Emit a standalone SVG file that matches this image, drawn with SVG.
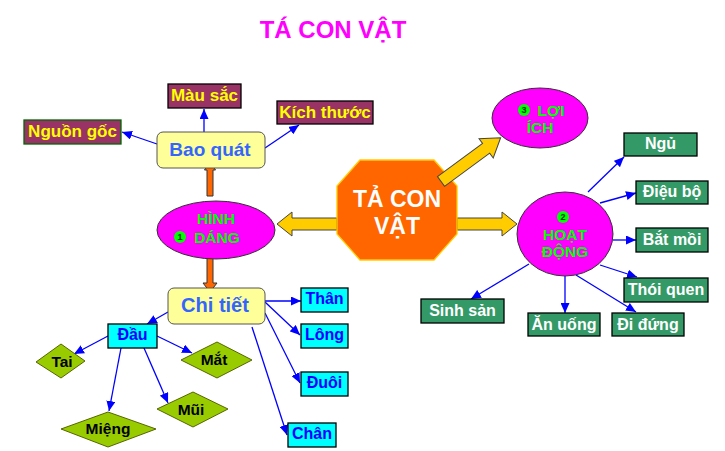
<svg xmlns="http://www.w3.org/2000/svg" width="725" height="451" viewBox="0 0 725 451">
<defs>
<marker id="ah" markerUnits="userSpaceOnUse" markerWidth="11" markerHeight="9" refX="10" refY="4.5" orient="auto">
<path d="M0,0 L10,4.5 L0,9 Z" fill="#0000FF"/>
</marker>
<style>
text{font-family:"Liberation Sans",Arial,sans-serif;text-anchor:middle}
.conn line{stroke:#0000FF;stroke-width:1.3;marker-end:url(#ah)}
.brown rect{fill:#993366;stroke:#000;stroke-width:1.3}
.brown text{fill:#FFFF00;font-weight:bold;font-size:17px}
.yel rect{fill:#FFFF99;stroke:#555;stroke-width:1}
.yel text{fill:#3366FF;font-weight:bold}
.cyan rect{fill:#00FFFF;stroke:#000;stroke-width:1.3}
.cyan text{fill:#0000FF;font-weight:bold;font-size:16px}
.dia polygon{fill:#99CC00;stroke:#556600;stroke-width:1}
.dia text{fill:#000;font-weight:bold;font-size:15.5px}
.grn rect{fill:#339966;stroke:#000;stroke-width:1.3}
.grn text{fill:#FFF;font-weight:bold;font-size:16px}
.ell ellipse{fill:#FF00FF;stroke:#333;stroke-width:1}
.ell text{fill:#00FF00;font-size:15.5px;font-weight:bold}
.bul circle{fill:#00FF00}
.bul text{fill:#003300;font-size:9px;font-weight:bold}
.yarrow{fill:#FFCC00;stroke:#444;stroke-width:1}
.oarrow{fill:#FF6600;stroke:#333;stroke-width:1}
</style>
</defs>
<rect width="725" height="451" fill="#FFFFFF"/>
<text id="title" x="333" y="38" font-size="24" font-weight="bold" fill="#FF00FF">TÁ CON VẬT</text>

<g id="connectors" class="conn">
<line x1="204" y1="132" x2="204" y2="109"/>
<line x1="157" y1="144" x2="122" y2="132"/>
<line x1="265" y1="148" x2="299" y2="125"/>
<line x1="265" y1="301" x2="301" y2="301"/>
<line x1="265" y1="302" x2="300" y2="335"/>
<line x1="265" y1="313" x2="300" y2="383"/>
<line x1="252" y1="327" x2="287" y2="435"/>
<line x1="168" y1="312" x2="147" y2="324"/>
<line x1="108" y1="336" x2="74" y2="354"/>
<line x1="157" y1="336" x2="192" y2="353"/>
<line x1="121" y1="348" x2="109" y2="411"/>
<line x1="144" y1="348" x2="168" y2="403"/>
<line x1="588" y1="192" x2="624" y2="157"/>
<line x1="600" y1="203" x2="636" y2="193"/>
<line x1="613" y1="240" x2="636" y2="240"/>
<line x1="600" y1="265" x2="637" y2="277"/>
<line x1="576" y1="275" x2="636" y2="312"/>
<line x1="565" y1="276" x2="565" y2="313"/>
<line x1="529" y1="264" x2="471" y2="299"/>
<polygon class="yarrow" points="277,224 292,212 292,218 337,218 337,230 292,230 292,236"/>
<polygon class="yarrow" points="457,218 502,218 502,212 517,224 502,236 502,230 457,230"/>
<polygon class="oarrow" points="207,196 207,170 204.5,170 210,161 215.5,170 213,170 213,196"/>
<polygon class="oarrow" points="207,257 213,257 213,283 217,283 210,292 203,283 207,283"/>
</g>

<g id="center">
<polygon points="360,160 434,160 457,186 457,234 434,260 360,260 337,234 337,186" fill="#FF6600" stroke="#FFCC00" stroke-width="1.3"/>
<text x="397" y="207" font-size="23" font-weight="bold" fill="#FFFFFF">TẢ CON</text>
<text x="397" y="234" font-size="23" font-weight="bold" fill="#FFFFFF">VẬT</text>
</g>
<g id="arrow-loiich">
<polygon class="yarrow" transform="translate(441,181.5) rotate(-36.3)" points="0,-6 56,-6 56,-12 74,0 56,12 56,6 0,6"/>
</g>

<g id="hinhdang" class="ell">
<ellipse cx="216" cy="230" rx="59" ry="29"/>
<text x="216" y="224">HÌNH</text>
<text x="217" y="243">DÁNG</text>
<g class="bul"><circle cx="180" cy="237" r="6"/><text x="180" y="240.2">1</text></g>
</g>
<g id="loiich" class="ell">
<ellipse cx="540" cy="118" rx="48" ry="30"/>
<text x="551" y="116">LỢI</text>
<text x="540" y="133">ÍCH</text>
<g class="bul"><circle cx="524" cy="110" r="6"/><text x="524" y="113.2">3</text></g>
</g>
<g id="hoatdong" class="ell">
<ellipse cx="565" cy="234" rx="48" ry="42"/>
<g class="bul"><circle cx="563" cy="217" r="6"/><text x="563" y="220.2">2</text></g>
<text x="565" y="240">HOẠT</text>
<text x="565" y="257">ĐỘNG</text>
</g>

<g id="baoquat" class="yel"><rect x="157" y="132" width="108" height="36" rx="6"/><text x="210" y="156" font-size="19">Bao quát</text></g>
<g id="chitiet" class="yel"><rect x="168" y="288" width="97" height="36" rx="6"/><text x="215" y="312" font-size="20">Chi tiết</text></g>

<g id="mausac" class="brown"><rect x="168" y="84" width="73" height="24"/><text x="204.5" y="101">Màu sắc</text></g>
<g id="kichthuoc" class="brown"><rect x="277" y="101" width="96" height="23"/><text x="325" y="118">Kích thước</text></g>
<g id="nguongoc" class="brown"><rect x="24" y="120" width="97" height="24" style="stroke:#006600"/><text x="72.5" y="137">Nguồn gốc</text></g>

<g id="than" class="cyan"><rect x="301" y="288" width="47" height="24"/><text x="324.5" y="304">Thân</text></g>
<g id="long" class="cyan"><rect x="301" y="324" width="47" height="24"/><text x="324.5" y="340">Lông</text></g>
<g id="duoi" class="cyan"><rect x="301" y="372" width="47" height="24"/><text x="324.5" y="388">Đuôi</text></g>
<g id="chan" class="cyan"><rect x="288" y="423" width="48" height="24"/><text x="312" y="439">Chân</text></g>
<g id="dau" class="cyan"><rect x="108" y="324" width="49" height="24"/><text x="132.5" y="340">Đầu</text></g>

<g id="tai" class="dia"><polygon points="36,362 61,344 85,361 61,378"/><text x="62" y="367">Tai</text></g>
<g id="mat" class="dia"><polygon points="181,360 217,342 252,360 217,378"/><text x="214" y="365">Mắt</text></g>
<g id="mui" class="dia"><polygon points="157,409 193,392 228,409 193,427"/><text x="191" y="415">Mũi</text></g>
<g id="mieng" class="dia"><polygon points="61,429 108,412 156,429 108,447"/><text x="108" y="434">Miệng</text></g>

<g id="ngu" class="grn"><rect x="624" y="133" width="73" height="23"/><text x="660.5" y="149">Ngủ</text></g>
<g id="dieubo" class="grn"><rect x="636" y="181" width="72" height="23"/><text x="672" y="197">Điệu bộ</text></g>
<g id="batmoi" class="grn"><rect x="636" y="228" width="72" height="24"/><text x="672" y="245">Bắt mồi</text></g>
<g id="thoiquen" class="grn"><rect x="624" y="278" width="84" height="24"/><text x="666" y="295">Thói quen</text></g>
<g id="anuong" class="grn"><rect x="528" y="313" width="72" height="23"/><text x="564" y="330">Ăn uống</text></g>
<g id="didung" class="grn"><rect x="612" y="313" width="72" height="23"/><text x="648" y="330">Đi đứng</text></g>
<g id="sinhsan" class="grn"><rect x="421" y="299" width="83" height="24"/><text x="462.5" y="316">Sinh sản</text></g>
</svg>
